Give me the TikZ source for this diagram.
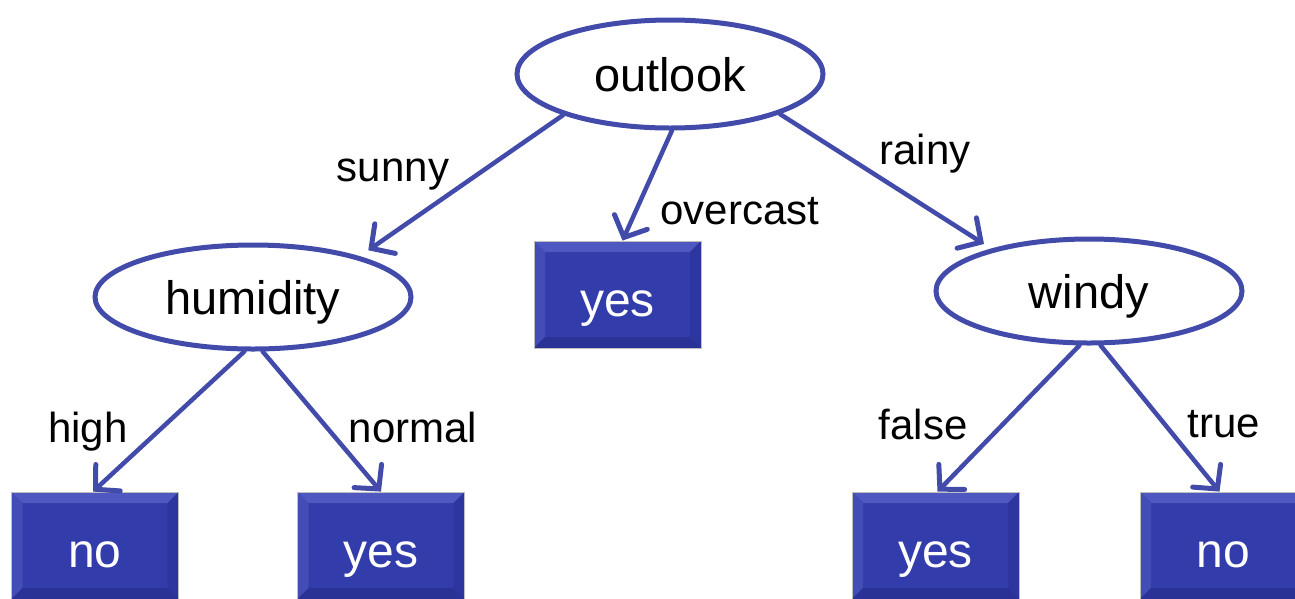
\documentclass[tikz,border=0pt]{standalone}
\usepackage{fontspec}
\setmainfont{Liberation Sans}
\usetikzlibrary{arrows.meta,shapes.geometric}
\definecolor{edgeblue}{RGB}{66,74,170}
\definecolor{boxfill}{RGB}{50,60,170}
\definecolor{boxlight}{RGB}{78,88,192}
\definecolor{boxdark}{RGB}{42,50,150}
\tikzset{
  attr/.style={ellipse, draw=edgeblue, line width=5pt, fill=white,
    minimum width=306pt, minimum height=108pt, inner sep=0pt,
    text height=34pt, text depth=0pt,
    font=\fontsize{47}{50}\selectfont},
  leaf/.style={rectangle, fill=boxfill, draw=black!25, line width=0.8pt,
    minimum width=167pt, minimum height=107pt, inner sep=0pt,
    text height=44pt, text depth=0pt,
    text=white, font=\fontsize{48}{50}\selectfont,
    path picture={
      \fill[boxlight] (path picture bounding box.north west) -- (path picture bounding box.north east)
        -- ([shift={(-11pt,-11pt)}]path picture bounding box.north east)
        -- ([shift={(11pt,-11pt)}]path picture bounding box.north west) -- cycle;
      \fill[boxlight!60!boxfill] (path picture bounding box.north west) -- (path picture bounding box.south west)
        -- ([shift={(11pt,11pt)}]path picture bounding box.south west)
        -- ([shift={(11pt,-11pt)}]path picture bounding box.north west) -- cycle;
      \fill[boxdark] (path picture bounding box.south west) -- (path picture bounding box.south east)
        -- ([shift={(-11pt,11pt)}]path picture bounding box.south east)
        -- ([shift={(11pt,11pt)}]path picture bounding box.south west) -- cycle;
      \fill[boxdark!60!boxfill] (path picture bounding box.north east) -- (path picture bounding box.south east)
        -- ([shift={(-11pt,11pt)}]path picture bounding box.south east)
        -- ([shift={(-11pt,-11pt)}]path picture bounding box.north east) -- cycle;
    }},
  edge/.style={draw=edgeblue, line width=4.5pt, line cap=round,
    -{Straight Barb[length=17pt,width=36pt,line cap=round,line width=5pt]}},
  lbl/.style={font=\fontsize{42}{44}\selectfont, inner sep=0pt, anchor=base}
}
\begin{document}
\begin{tikzpicture}[x=1pt,y=-1pt]
\useasboundingbox (0,0) rectangle (1295,598);
\node[attr] (outlook) at (670,74) {outlook};
\node[attr, minimum width=316pt, minimum height=104pt] (humidity) at (253,297) {humidity};
\node[attr, minimum height=104pt] (windy) at (1089,291) {windy};
\node[leaf] (yes1) at (617.5,294.5) {yes};
\node[leaf] (no1) at (95,545.5) {no};
\node[leaf] (yes2) at (381,545.5) {yes};
\node[leaf] (yes3) at (935.5,545.5) {yes};
\node[leaf] (no2) at (1223.5,545.5) {no};

\draw[edge] (outlook.201) -- ([shift={(12pt,5pt)}]humidity.22);
\draw[edge] (outlook.-88) -- ([xshift=5pt]yes1.north);
\draw[edge] (outlook.-20) -- ([shift={(-6pt,5pt)}]windy.157);
\draw[edge] (humidity.-99) -- ([xshift=-2pt]no1.north);
\draw[edge] (humidity.-80) -- (yes2.north);
\draw[edge] (windy.-100) -- ([xshift=2pt]yes3.north);
\draw[edge] (windy.-78) -- ([xshift=-4pt]no2.north);

\node[lbl] (sunny) at (393,181) {sunny};
\node[lbl] (overcast) at (740,224) {overcast};
\node[lbl] (rainy) at (925,164) {rainy};
\node[lbl] (high) at (88,442) {high};
\node[lbl] (normal) at (413,442) {normal};
\node[lbl] (false) at (923,439) {false};
\node[lbl] (true) at (1224,437) {true};
\end{tikzpicture}
\end{document}
